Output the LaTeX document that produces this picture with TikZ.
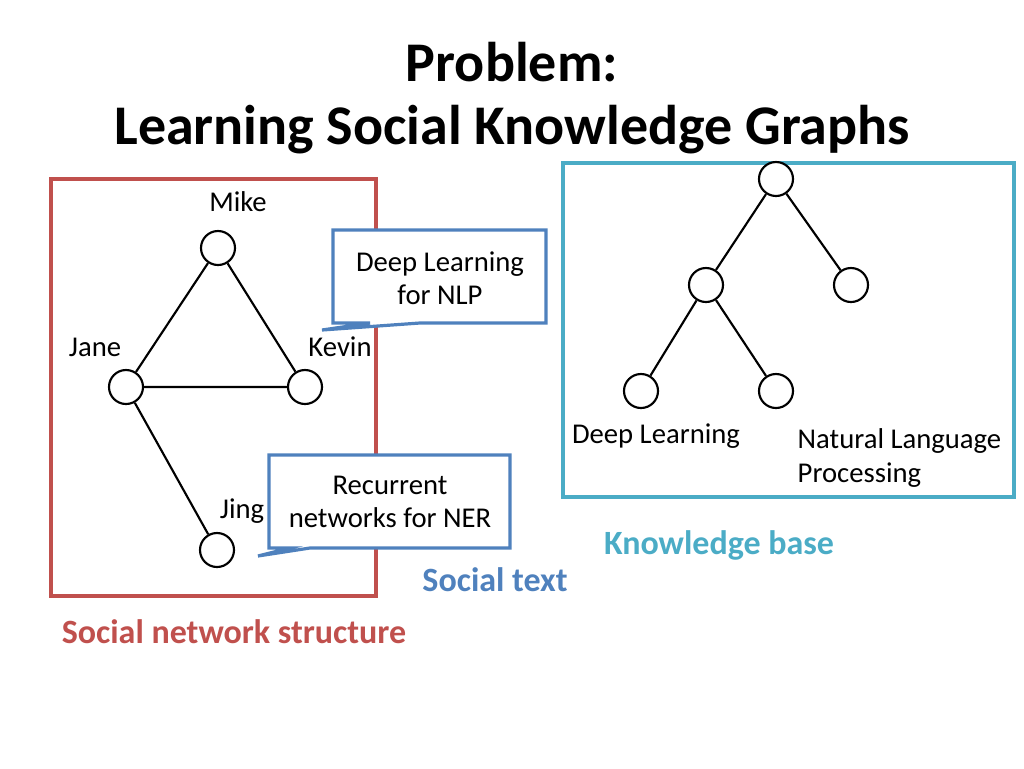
\documentclass[tikz,border=0pt]{standalone}
\usepackage{fontspec}
\setmainfont{Carlito}
\definecolor{cred}{HTML}{C0504D}
\definecolor{cblue}{HTML}{4F81BD}
\definecolor{cteal}{HTML}{4BACC6}
\begin{document}
\begin{tikzpicture}[x=0.75pt,y=-0.75pt,
  vert/.style={circle,draw,line width=1.6pt,minimum size=25.5pt,inner sep=0pt,fill=white},
  lab/.style={font=\fontsize{21.5}{24}\selectfont},
  edge/.style={line width=1.6pt},
  callout/.style={draw=cblue,line width=2.4pt,fill=white,line join=miter}]
\useasboundingbox (0,0) rectangle (1024,768);
\node[font=\fontsize{42}{48}\selectfont\bfseries] (t1) at (512,62) {Problem:};
\node[font=\fontsize{42}{48}\selectfont\bfseries] (t2) at (512,130) {Learning Social Knowledge Graphs};
% social network
\draw[cred,line width=2.4pt] (51,179) rectangle (376,596);
\node[vert] (mike) at (218,248) {};
\node[vert] (jane) at (126,387) {};
\node[vert] (kevin) at (305,387) {};
\node[vert] (jing) at (217,550) {};
\draw[edge] (mike)--(jane) (mike)--(kevin) (jane)--(kevin) (jane)--(jing);
\node[lab] (lm) at (238,202) {Mike};
\node[lab] (lj) at (95,347) {Jane};
\node[lab] (lk) at (340,347) {Kevin};
\node[lab] (lg) at (242,511) {Jing};
% callouts
\draw[callout] (333,230)--(546,230)--(546,323)--(420,323)--(322,330)--(370,323)--(333,323)--cycle;
\node[lab,align=center] (c1) at (440,278) {Deep Learning\\[1pt]for NLP};
\draw[callout] (269,455)--(510,455)--(510,548)--(310,548)--(258,556)--(290,548)--(269,548)--cycle;
\node[lab,align=center] (c2) at (390,502) {Recurrent\\[1pt]networks for NER};
% knowledge base
\draw[cteal,line width=2.4pt] (563,163) rectangle (1014,497);
\node[vert] (r) at (776,179) {};
\node[vert] (a) at (706,285) {};
\node[vert] (b) at (851,285) {};
\node[vert] (aa) at (641,391) {};
\node[vert] (ab) at (776,391) {};
\draw[edge] (r)--(a) (r)--(b) (a)--(aa) (a)--(ab);
\node[lab] (dl) at (656,436) {Deep Learning};
\node[lab,align=left,anchor=west] (nlp) at (793,458) {Natural Language\\[1pt]Processing};
\node[font=\fontsize{25.5}{28}\selectfont\bfseries,text=cteal] (kb) at (719,545) {Knowledge base};
\node[font=\fontsize{25.5}{28}\selectfont\bfseries,text=cblue] (st) at (495,580) {Social text};
\node[font=\fontsize{25.5}{28}\selectfont\bfseries,text=cred] (sn) at (234,632) {Social network structure};
\end{tikzpicture}
\end{document}
